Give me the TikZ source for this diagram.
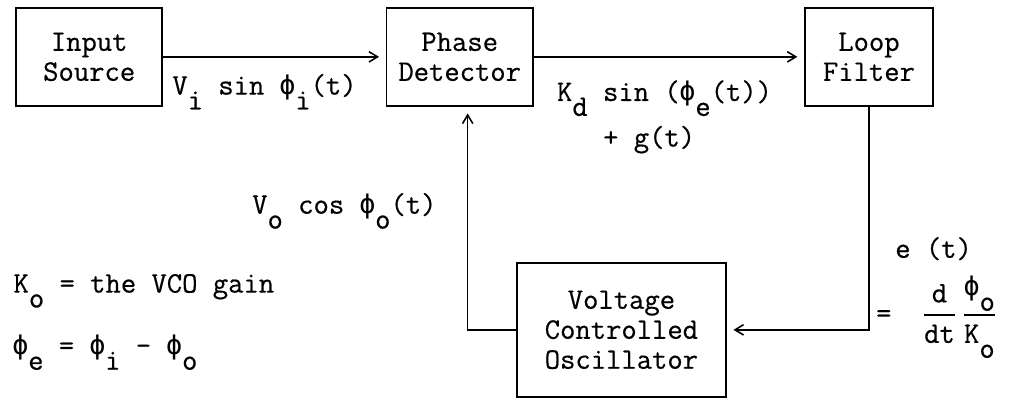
\documentclass[tikz,border=0pt]{standalone}
\usepackage{fontspec}
\usepackage{amsmath}
\usetikzlibrary{arrows.meta}
\setmonofont[FakeBold=0.5]{Latin Modern Mono}
\newfontfamily\phifont[Scale=0.9]{DejaVu Sans Mono}
\newcommand{\lowsub}[1]{\raisebox{-0.5em}{#1}}
\newcommand{\tphi}{\makebox[0.525em]{\phifont ϕ}}

\begin{document}
\begin{tikzpicture}[
  blk/.style={draw, line width=0.9pt, minimum height=2cm, align=center, inner sep=0pt, font=\ttfamily\fontsize{17.28}{17.4}\selectfont},
  arrow/.style={-{Straight Barb[length=5pt,width=6pt]}, line width=0.9pt, shorten >=0.14cm},
  lab/.style={anchor=base west, inner sep=0pt, font=\ttfamily\fontsize{17.28}{17.4}\selectfont}
]
\useasboundingbox (0,0) rectangle (20.69,8.36);
\node[blk, minimum width=2.98cm] (src) at (1.82,7.20) {Input\\Source};
\node[blk, minimum width=2.98cm] (pd) at (9.38,7.20) {Phase\\Detector};
\node[blk, minimum width=2.61cm] (lf) at (17.73,7.20) {Loop\\Filter};
\node[blk, minimum width=4.26cm, minimum height=2.73cm] (vco) at (12.68,1.63) {Voltage\\Controlled\\Oscillator};

\node[lab] (vi) at (3.51,6.43) {V\lowsub{i} sin \tphi\lowsub{i}(t)};
\node[lab] (kd) at (11.36,6.30) {K\lowsub{d} sin (\tphi\lowsub{e}(t))};
\node[lab] (gt) at (12.30,5.37) {+ g(t)};
\node[lab] (vo) at (5.14,4.00) {V\lowsub{o} cos \tphi\lowsub{o}(t)};
\node[lab] (ko) at (0.27,2.39) {K\lowsub{o} = the VCO gain};
\node[lab] (pe) at (0.25,1.12) {\tphi\lowsub{e} = \tphi\lowsub{i} - \tphi\lowsub{o}};
\node[lab] (et) at (18.26,3.10) {e (t)};
\node[lab] (eq) at (17.87,1.78) {=\ \ $\dfrac{\mbox{d}}{\mbox{dt}}\,\dfrac{\mbox{\tphi\lowsub{o}}}{\mbox{K\lowsub{o}}}$};

\draw[arrow] (src) -- (pd);
\draw[arrow] (pd) -- (lf);
\draw[arrow] (lf.south) |- (vco.east);
\draw[arrow] (vco.west) -| ([xshift=0.163cm]pd.south);
\end{tikzpicture}
\end{document}
